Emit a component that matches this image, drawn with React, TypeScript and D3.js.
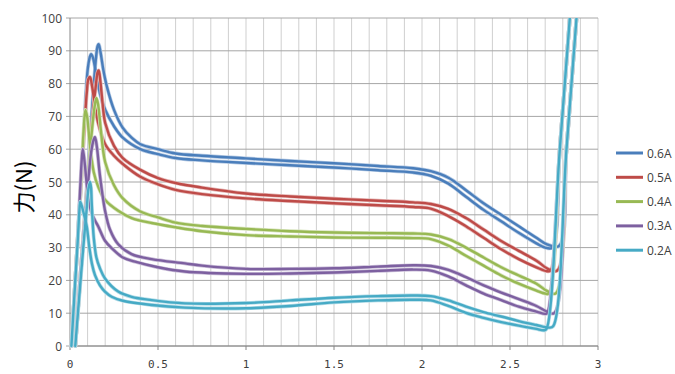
import React from "react";
import * as d3 from "d3";

type P = [number, number];

const seriesNames = ["0.6A", "0.5A", "0.4A", "0.3A", "0.2A"];
const seriesColors = ["#4A7EBB", "#BE4B48", "#98B954", "#7D60A0", "#46AAC5"];

const s06Hi: P[] = [[0.03,0],[0.07,29],[0.1,52],[0.13,76],[0.148,88],[0.157,91.5],[0.163,92],[0.172,90],[0.19,84],[0.21,79],[0.25,72],[0.3,66.5],[0.35,63.5],[0.4,61.5],[0.5,60],[0.6,58.7],[0.75,58],[1,57.2],[1.25,56.4],[1.5,55.7],[1.75,54.9],[1.95,54.2],[2.05,53.3],[2.15,51.3],[2.25,47.5],[2.35,43.5],[2.45,40],[2.55,36.5],[2.65,33],[2.71,31],[2.779,30.5],[2.821,60],[2.885,105]];
const s06Lo: P[] = [[0.008,0],[0.04,29],[0.07,56],[0.1,84],[0.112,88],[0.12,89],[0.13,88],[0.145,84],[0.17,77],[0.2,72],[0.25,67],[0.3,63.5],[0.4,60],[0.5,58.5],[0.6,57.3],[0.75,56.6],[1,55.8],[1.25,55.1],[1.5,54.4],[1.75,53.6],[1.95,52.9],[2.05,51.9],[2.15,49.5],[2.25,45.5],[2.35,41.5],[2.45,38],[2.55,34.5],[2.65,31.3],[2.7,30],[2.74,30],[2.783,60],[2.847,105]];

const s05Hi: P[] = [[0.03,0],[0.07,29],[0.1,50],[0.13,71],[0.148,80],[0.157,83.5],[0.163,84],[0.172,81],[0.185,74],[0.2,68],[0.25,61],[0.3,57.3],[0.4,53.7],[0.5,51.2],[0.6,49.7],[0.75,48.3],[1,46.5],[1.25,45.6],[1.5,44.9],[1.75,44.3],[1.95,43.8],[2.05,43.3],[2.15,41.8],[2.25,39],[2.35,35.5],[2.45,32],[2.55,29],[2.65,26],[2.72,23.4],[2.769,23],[2.821,60],[2.885,105]];
const s05Lo: P[] = [[0.008,0],[0.04,29],[0.07,56],[0.095,77],[0.105,81.5],[0.114,82],[0.123,80],[0.14,74],[0.16,68],[0.2,61.5],[0.25,58],[0.3,55.5],[0.4,51.6],[0.5,49.3],[0.6,47.6],[0.75,46.3],[1,45],[1.25,44.2],[1.5,43.5],[1.75,42.9],[1.95,42.4],[2.05,41.9],[2.15,39.6],[2.25,36.5],[2.35,33],[2.45,29.5],[2.55,26.5],[2.65,24],[2.71,22.8],[2.731,23],[2.783,60],[2.847,105]];

const s04Hi: P[] = [[0.03,0],[0.07,29],[0.1,50],[0.125,66],[0.14,73],[0.15,75.6],[0.16,73.5],[0.175,66],[0.2,56],[0.25,49],[0.3,45],[0.4,41],[0.5,39.2],[0.6,37.6],[0.75,36.6],[1,35.7],[1.25,35],[1.5,34.6],[1.75,34.4],[1.95,34.3],[2.05,34],[2.15,32.6],[2.25,30],[2.35,27],[2.45,24],[2.55,21.5],[2.65,19],[2.71,16.8],[2.759,16],[2.821,60],[2.885,105]];
const s04Lo: P[] = [[0.008,0],[0.04,29],[0.065,52],[0.08,68],[0.088,72],[0.097,70],[0.114,61],[0.135,53],[0.16,48.6],[0.2,44.5],[0.274,41.2],[0.35,39],[0.464,37.5],[0.6,36.2],[0.75,35],[1,33.8],[1.25,33.4],[1.5,33.1],[1.75,33],[1.95,32.9],[2.05,32.6],[2.15,30.6],[2.25,27.5],[2.35,24.5],[2.45,21.5],[2.55,19],[2.65,16.9],[2.7,16],[2.721,16],[2.783,60],[2.847,105]];

const s03Hi: P[] = [[0.03,0],[0.07,29],[0.1,48],[0.12,59],[0.135,63],[0.142,63.7],[0.152,61],[0.17,52],[0.2,41],[0.227,35.5],[0.274,31],[0.35,28],[0.464,26.5],[0.653,25.2],[0.75,24.5],[1,23.5],[1.25,23.5],[1.5,23.7],[1.75,24.2],[1.95,24.6],[2.05,24.4],[2.15,23.2],[2.25,21],[2.35,18.5],[2.45,16.3],[2.55,14.3],[2.65,12.2],[2.71,10.5],[2.751,10],[2.821,60],[2.885,105]];
const s03Lo: P[] = [[0.008,0],[0.04,29],[0.058,48],[0.067,57],[0.073,60],[0.085,55],[0.1,47],[0.12,41],[0.14,38.5],[0.16,36.5],[0.2,32],[0.237,29.8],[0.3,27],[0.37,25.7],[0.5,24],[0.653,22.7],[1,22],[1.25,22.1],[1.5,22.4],[1.75,22.9],[1.95,23.3],[2.05,23],[2.15,21.2],[2.25,18.5],[2.35,16],[2.45,14],[2.55,12],[2.65,10.5],[2.7,9.8],[2.712,10],[2.783,60],[2.847,105]];

const s02Hi: P[] = [[0.03,0],[0.06,20],[0.08,33],[0.095,42],[0.105,48],[0.114,50],[0.12,48],[0.123,44],[0.135,33],[0.15,27],[0.17,23.7],[0.2,20.5],[0.274,16.6],[0.35,15],[0.464,14],[0.653,13],[1,13.1],[1.25,13.9],[1.5,14.7],[1.75,15.2],[1.95,15.4],[2.05,15.2],[2.15,13.9],[2.25,12],[2.35,10.3],[2.45,9],[2.55,7.6],[2.65,6.4],[2.72,5.6],[2.745,6],[2.821,60],[2.885,105]];
const s02Lo: P[] = [[0.008,0],[0.03,20],[0.045,33],[0.053,41],[0.058,44],[0.065,43],[0.08,40],[0.095,36.5],[0.11,30],[0.125,25],[0.142,21.6],[0.17,18.5],[0.2,16.5],[0.237,15],[0.3,13.8],[0.464,12.5],[0.653,11.7],[1,11.5],[1.25,12.2],[1.5,13.3],[1.75,13.9],[1.95,14.1],[2.05,13.9],[2.15,12.2],[2.25,10.1],[2.35,8.6],[2.45,7.3],[2.55,6.2],[2.65,5.2],[2.69,4.8],[2.705,5],[2.783,60],[2.847,105]];

const seriesBranches: P[][][] = [
  [s06Hi, s06Lo],
  [s05Hi, s05Lo],
  [s04Hi, s04Lo],
  [s03Hi, s03Lo],
  [s02Hi, s02Lo],
];

const xTicks = [0, 0.5, 1, 1.5, 2, 2.5, 3];
const xTickLabels = ["0", "0.5", "1", "1.5", "2", "2.5", "3"];
const yTicks = [0, 10, 20, 30, 40, 50, 60, 70, 80, 90, 100];
const xMinorGrid = d3.range(1, 31).map((i) => i / 10);

const W = 675;
const H = 374;

export default function App() {
  const x = d3.scaleLinear().domain([0, 3]).range([70, 598]);
  const y = d3.scaleLinear().domain([0, 100]).range([346, 18]);
  const line = d3
    .line<P>()
    .x((d) => x(d[0]))
    .y((d) => y(d[1]))
    .curve(d3.curveCatmullRom.alpha(0.5));

  const light = (c: string) => d3.interpolateRgb(c, "#ffffff")(0.6);

  return (
    <svg
      width={W}
      height={H}
      style={{ position: "absolute", left: 0, top: 0, background: "#fff" }}
    >
      <defs>
        <clipPath id="plotClip">
          <rect x={60} y={y(100)} width={560} height={y(0) - y(100) + 20} />
        </clipPath>
      </defs>
      {xMinorGrid.map((v) => (
        <line
          key={"vx" + v}
          x1={x(v)}
          x2={x(v)}
          y1={y(0)}
          y2={y(100)}
          stroke="#cfcfcf"
          strokeWidth={1}
        />
      ))}
      {yTicks.map((v) => (
        <line
          key={"hy" + v}
          x1={x(0) - 4}
          x2={x(3)}
          y1={y(v)}
          y2={y(v)}
          stroke="#a6a6a6"
          strokeWidth={1}
        />
      ))}
      <line x1={x(0)} x2={x(0)} y1={y(0)} y2={y(100)} stroke="#868686" />
      <line x1={x(0)} x2={x(3)} y1={y(0)} y2={y(0)} stroke="#868686" />
      {xTicks.map((v) => (
        <line
          key={"xt" + v}
          x1={x(v)}
          x2={x(v)}
          y1={y(0)}
          y2={y(0) + 4}
          stroke="#868686"
        />
      ))}
      {yTicks.map((v) => (
        <text
          key={"yl" + v}
          x={62}
          y={y(v)}
          textAnchor="end"
          dominantBaseline="central"
          fontFamily="'Open Sans', sans-serif"
          fontSize={12}
          fill="#404040"
        >
          {v}
        </text>
      ))}
      {xTicks.map((v, i) => (
        <text
          key={"xl" + v}
          x={x(v)}
          y={368}
          textAnchor="middle"
          fontFamily="'DejaVu Sans Mono', monospace"
          fontSize={11}
          fill="#404040"
        >
          {xTickLabels[i]}
        </text>
      ))}
      <text
        transform={`translate(22,187) rotate(-90)`}
        textAnchor="middle"
        dominantBaseline="central"
        fontFamily="'Noto Sans CJK JP', sans-serif"
        fontSize={22}
        fill="#000"
      >
        力(N)
      </text>
      <g clipPath="url(#plotClip)">
        {seriesBranches.map((branches, si) => (
          <g key={"s" + si}>
            {branches.map((b, bi) => (
              <path
                key={"h" + bi}
                d={line(b) || ""}
                fill="none"
                stroke={light(seriesColors[si])}
                strokeWidth={3.8}
                strokeLinejoin="round"
                strokeLinecap="round"
              />
            ))}
            {branches.map((b, bi) => (
              <path
                key={"c" + bi}
                d={line(b) || ""}
                fill="none"
                stroke={seriesColors[si]}
                strokeWidth={2.4}
                strokeLinejoin="round"
                strokeLinecap="round"
              />
            ))}
          </g>
        ))}
      </g>
      {seriesNames.map((n, i) => {
        const ly = 153 + i * 24.3;
        return (
          <g key={"lg" + n}>
            <line
              x1={616}
              x2={643}
              y1={ly}
              y2={ly}
              stroke={seriesColors[i]}
              strokeWidth={3}
            />
            <text
              x={647}
              y={ly}
              dominantBaseline="central"
              fontFamily="'Open Sans', sans-serif"
              fontSize={12}
              fill="#404040"
            >
              {n}
            </text>
          </g>
        );
      })}
    </svg>
  );
}
